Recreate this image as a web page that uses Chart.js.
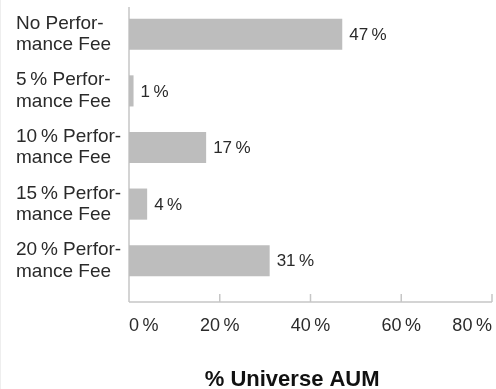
<!DOCTYPE html>
<html>
<head>
<meta charset="utf-8">
<script src="https://cdn.jsdelivr.net/npm/chart.js@4/dist/chart.umd.min.js"></script>
<style>
  html, body { margin: 0; padding: 0; background: #fff; overflow: hidden; }
  #wrap { width: 495px; height: 389px; border-left: 1px solid #eeeeee; position: relative; }
</style>
</head>
<body>
<div id="wrap"><canvas id="feeChart"></canvas></div>
<script>
// data
const feeLabels = [
  ["No Perfor-", "mance Fee"],
  ["5\u2009% Perfor-", "mance Fee"],
  ["10\u2009% Perfor-", "mance Fee"],
  ["15\u2009% Perfor-", "mance Fee"],
  ["20\u2009% Perfor-", "mance Fee"]
];
const aumShare = [47, 1, 17, 4, 31];
const axisMin = 0;
const axisMax = 80;
const axisStep = 20;
const axisTitle = "% Universe AUM";

const textColor = "#2a2a2a";
const barColor = "#bdbdbd";
const lineColor = "#c6c6c6";
const fontName = '"Liberation Sans", Arial, sans-serif';

// axis lines + upward tick marks (drawn off the x scale)
const axisLines = {
  id: "axisLines",
  beforeDatasetsDraw(chart) {
    const { ctx, chartArea, scales: { x } } = chart;
    const baseY = chartArea.bottom + 13;
    const x0 = x.getPixelForValue(axisMin);
    ctx.save();
    ctx.strokeStyle = lineColor;
    ctx.lineWidth = 1.5;
    ctx.beginPath();
    ctx.moveTo(x0, chartArea.top + 1);
    ctx.lineTo(x0, baseY);
    ctx.moveTo(x.left, baseY);
    ctx.lineTo(x.right, baseY);
    x.ticks.forEach(t => {
      const px = x.getPixelForValue(t.value);
      ctx.moveTo(px, baseY - 8);
      ctx.lineTo(px, baseY);
    });
    ctx.stroke();
    ctx.restore();
  }
};

// value labels right of each bar
const valueLabels = {
  id: "valueLabels",
  afterDatasetsDraw(chart) {
    const { ctx } = chart;
    const meta = chart.getDatasetMeta(0);
    ctx.save();
    ctx.font = "17px " + fontName;
    ctx.fillStyle = textColor;
    ctx.textBaseline = "middle";
    ctx.textAlign = "left";
    meta.data.forEach((bar, i) => {
      ctx.fillText(aumShare[i] + "\u2009%", bar.x + 7, bar.y + 1);
    });
    ctx.restore();
  }
};

new Chart(document.getElementById("feeChart"), {
  type: "bar",
  data: {
    labels: feeLabels,
    datasets: [{
      data: aumShare,
      backgroundColor: barColor,
      borderWidth: 0,
      barPercentage: 0.55,
      categoryPercentage: 1
    }]
  },
  options: {
    indexAxis: "y",
    responsive: true,
    maintainAspectRatio: false,
    animation: false,
    layout: { padding: { left: 15, right: 4, top: 6, bottom: 0 } },
    plugins: { legend: { display: false }, tooltip: { enabled: false } },
    scales: {
      x: {
        min: axisMin,
        max: axisMax,
        grid: { display: false, drawTicks: false },
        border: { display: false },
        ticks: {
          stepSize: axisStep,
          padding: 26,
          align: "inner",
          color: textColor,
          font: { family: fontName, size: 18 },
          maxRotation: 0,
          callback: v => v + "\u2009%"
        },
        title: {
          display: true,
          // trailing spaces pull the centred text left like the reference
          text: axisTitle + "      ",
          color: "#111",
          padding: { top: 0, bottom: 0 },
          font: { family: fontName, size: 22, weight: "bold", lineHeight: 0.8 }
        },
        afterFit(scale) {
          scale.height = 100;
          scale.paddingLeft = 0;
          scale.paddingRight = 0;
        }
      },
      y: {
        grid: { display: false, drawTicks: false },
        border: { display: false },
        ticks: {
          crossAlign: "far",
          padding: 0,
          color: textColor,
          font: { family: fontName, size: 19, lineHeight: 1.13 }
        },
        afterFit(scale) {
          scale.width = 113;
          scale.paddingTop = 0;
          scale.paddingBottom = 0;
        }
      }
    }
  },
  plugins: [axisLines, valueLabels]
});
</script>
</body>
</html>
